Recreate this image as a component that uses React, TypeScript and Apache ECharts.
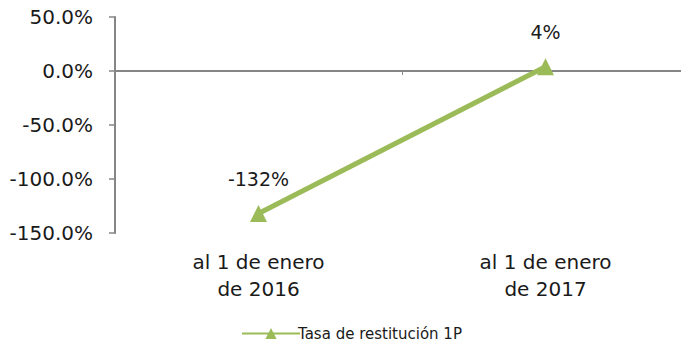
import React, { useEffect, useRef } from "react";
import * as echarts from "echarts";

const categories = ["al 1 de enero\nde 2016", "al 1 de enero\nde 2017"];
const seriesName = "Tasa de restitución 1P";
const values = [-132, 4];
const yMin = -150;
const yMax = 50;
const yInterval = 50;

const FONT = "'DejaVu Sans', sans-serif";
const GREEN = "#9BBB59";
const AXIS = "#868686";

export default function App() {
  const ref = useRef<HTMLDivElement>(null);
  useEffect(() => {
    if (!ref.current) return;
    const chart = echarts.init(ref.current, null, { renderer: "svg" });
    chart.setOption({
      animation: false,
      textStyle: { fontFamily: FONT },
      grid: { left: 115, right: 0, top: 17, bottom: 117 },
      legend: {
        bottom: 4,
        left: 236,
        itemWidth: 58,
        itemHeight: 14,
        itemGap: 4,
        textStyle: { fontFamily: FONT, fontSize: 15, color: "#1a1a1a", padding: [0, 0, 0, -7] },
        data: [seriesName],
      },
      xAxis: [
        {
          type: "category",
          data: categories,
          position: "bottom",
          axisLine: { onZero: true, lineStyle: { color: AXIS, width: 2 } },
          axisTick: { show: true, length: 4, lineStyle: { color: AXIS, width: 1 } },
          axisLabel: { show: false },
          splitLine: { show: false },
        },
        {
          type: "category",
          data: categories,
          position: "bottom",
          axisLine: { show: false, onZero: false },
          axisTick: { show: false },
          axisLabel: {
            show: true,
            fontFamily: FONT,
            fontSize: 20,
            color: "#1a1a1a",
            lineHeight: 27,
            margin: 15,
          },
          splitLine: { show: false },
        },
      ],
      yAxis: {
        type: "value",
        min: yMin,
        max: yMax,
        interval: yInterval,
        axisLine: { show: true, lineStyle: { color: AXIS, width: 2 } },
        axisTick: { show: true, length: 6, lineStyle: { color: AXIS, width: 1.5 } },
        splitLine: { show: false },
        axisLabel: {
          fontFamily: FONT,
          fontSize: 20,
          color: "#1a1a1a",
          margin: 22,
          formatter: (v: number) => v.toFixed(1) + "%",
        },
      },
      series: [
        {
          name: seriesName,
          type: "line",
          xAxisIndex: 0,
          data: values,
          symbol: "triangle",
          symbolSize: 17,
          lineStyle: { color: GREEN, width: 5 },
          itemStyle: { color: GREEN },
          label: {
            show: true,
            position: "top",
            distance: 17,
            fontFamily: FONT,
            fontSize: 19,
            color: "#1a1a1a",
            formatter: (p: any) => Math.round(p.value) + "%",
          },
        },
      ],
    });
    return () => chart.dispose();
  }, []);
  return <div ref={ref} style={{ width: 689, height: 350, margin: -8 }} />;
}
